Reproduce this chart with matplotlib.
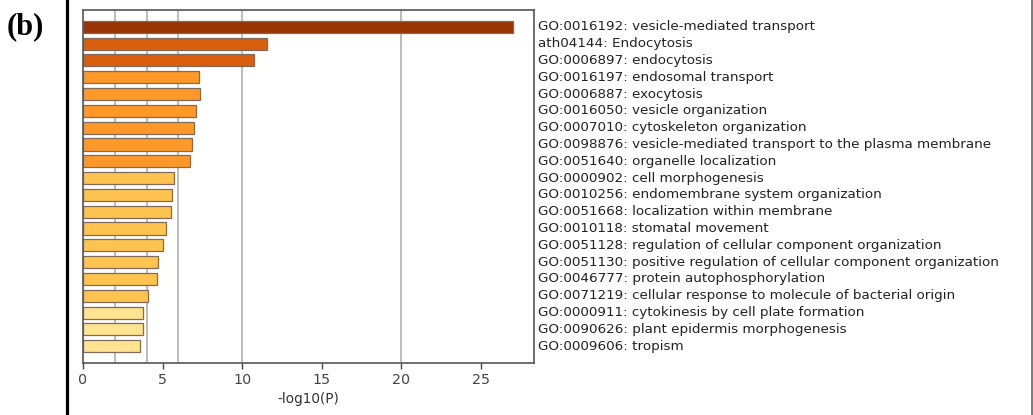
import matplotlib
matplotlib.use("Agg")
import matplotlib.pyplot as plt
from matplotlib.lines import Line2D

terms = [
    "GO:0016192: vesicle-mediated transport",
    "ath04144: Endocytosis",
    "GO:0006897: endocytosis",
    "GO:0016197: endosomal transport",
    "GO:0006887: exocytosis",
    "GO:0016050: vesicle organization",
    "GO:0007010: cytoskeleton organization",
    "GO:0098876: vesicle-mediated transport to the plasma membrane",
    "GO:0051640: organelle localization",
    "GO:0000902: cell morphogenesis",
    "GO:0010256: endomembrane system organization",
    "GO:0051668: localization within membrane",
    "GO:0010118: stomatal movement",
    "GO:0051128: regulation of cellular component organization",
    "GO:0051130: positive regulation of cellular component organization",
    "GO:0046777: protein autophosphorylation",
    "GO:0071219: cellular response to molecule of bacterial origin",
    "GO:0000911: cytokinesis by cell plate formation",
    "GO:0090626: plant epidermis morphogenesis",
    "GO:0009606: tropism",
]
neg_log_p = [27.0, 11.55, 10.75, 7.3, 7.33, 7.08, 7.0, 6.88, 6.75, 5.75,
             5.6, 5.56, 5.2, 5.0, 4.7, 4.64, 4.09, 3.77, 3.76, 3.61]
bar_colors = ["#993404", "#d95f0e", "#d95f0e"] + ["#fe9929"] * 6 + ["#fec44f"] * 8 + ["#fee391"] * 3
grid_x = [2, 4, 6, 10, 20]
xticks = [0, 5, 10, 15, 20, 25]

fig = plt.figure(figsize=(10.33, 4.15), dpi=100)
ax = fig.add_axes([83 / 1033, 1 - 363 / 415, (534 - 83) / 1033, (363 - 10) / 415])

ypos = list(range(len(terms)))
for gx in grid_x:
    ax.axvline(gx, color="#b0b0b0", lw=1.2, zorder=0)
ax.barh(ypos, neg_log_p, height=0.72, color=bar_colors, edgecolor="#806b5a",
        linewidth=0.9, zorder=2)
ax.set_ylim(20, -1)
ax.set_xlim(0, 28.35)
ax.set_yticks([])
ax.set_xticks(xticks)
ax.tick_params(axis="x", colors="#444444", labelsize=10.3, length=4, width=1)
for s in ax.spines.values():
    s.set_color("#555555")
    s.set_linewidth(1.2)
ax.set_xlabel("-log10(P)", fontsize=9.8, color="#333333", labelpad=3)

for y, t in zip(ypos, terms):
    ax.text(1.008, y, t, transform=ax.get_yaxis_transform(), va="center", ha="left",
            fontsize=9.7, color="#222222", clip_on=False)

fig.text(7 / 1033, 1 - 27 / 415, "(b)", fontsize=22, fontweight="bold",
         family="Liberation Serif", va="center", ha="left")
fig.add_artist(Line2D([66.5 / 1033, 66.5 / 1033], [0, 1], transform=fig.transFigure,
                      color="black", lw=2.3))
fig.add_artist(Line2D([1031.5 / 1033, 1031.5 / 1033], [0, 1], transform=fig.transFigure,
                      color="#666666", lw=1.2))

fig.savefig("out.png", dpi=100)
